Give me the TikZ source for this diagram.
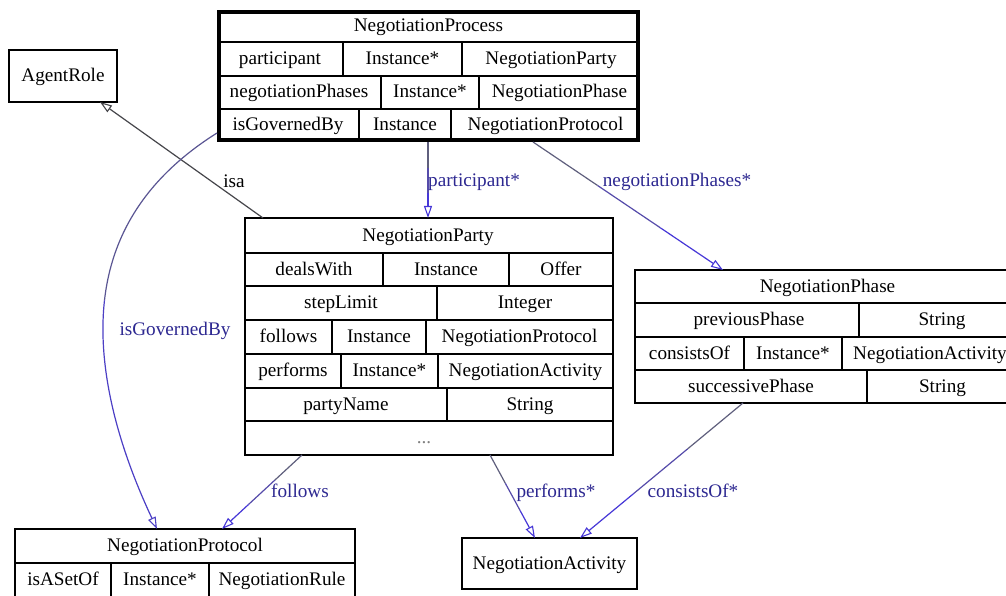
\documentclass[tikz,border=0pt]{standalone}
\usepackage{fontspec}
\setmainfont{Liberation Serif}
\usetikzlibrary{arrows.meta,calc}
\definecolor{cstart}{RGB}{95,95,125}
\definecolor{cmid}{RGB}{85,75,170}
\definecolor{cend}{RGB}{70,55,215}
\definecolor{lblblue}{RGB}{45,40,145}
\definecolor{isagray}{RGB}{70,70,75}
\tikzset{
  cls/.style={draw=black, line width=1.2pt, inner sep=0pt, fill=white, font=\fontsize{19.2}{23}\selectfont, text height=14pt, text depth=3pt},
  procbox/.style={draw=black, line width=4pt, inner sep=0pt, fill=white},
  sepline/.style={draw=black, line width=1.2pt},
  tcellstyle/.style={inner sep=0pt, font=\fontsize{19.2}{23}\selectfont, text=black, text height=14pt, text depth=3pt},
  elabel/.style={tcellstyle, text=lblblue},
  eline/.style={line width=1.2pt},
  opentip/.style={-{Triangle[open,length=12pt,width=8pt,line width=1.1pt]}},
}
\newcommand\tcell[4]{\node[tcellstyle] (#1) at (#2,#3) {#4};}
\newcommand\gradline[2]{%
  \draw[eline, cstart] (#1) -- ($(#1)!0.34!(#2)$);
  \draw[eline, cmid] ($(#1)!0.34!(#2)$) -- ($(#1)!0.67!(#2)$);
  \draw[eline, cend, opentip] ($(#1)!0.67!(#2)$) -- (#2);}
\begin{document}
\begin{tikzpicture}[x=1pt,y=-1pt]
\useasboundingbox (0,0) rectangle (1006,596);
\fill[white] (0,0) rectangle (1006,596);
\clip (0,0) rectangle (1006,596);

% ---------- NegotiationProcess ----------
\node[procbox, minimum width=419pt, minimum height=128.5pt] (proc) at (428.5,76.25) {};
\draw[sepline] (219,42) -- (638,42);
\draw[sepline] (219,76) -- (638,76);
\draw[sepline] (219,109) -- (638,109);
\draw[sepline] (343,42) -- (343,76);
\draw[sepline] (462,42) -- (462,76);
\draw[sepline] (381,76) -- (381,109);
\draw[sepline] (479,76) -- (479,109);
\draw[sepline] (359,109) -- (359,139);
\draw[sepline] (451,109) -- (451,139);
\tcell{procT}{428.5}{26}{NegotiationProcess}
\tcell{procA}{280}{59}{participant}
\tcell{procB}{402.5}{59}{Instance*}
\tcell{procC}{551}{59}{NegotiationParty}
\tcell{procD}{299}{92.5}{negotiationPhases}
\tcell{procE}{430}{92.5}{Instance*}
\tcell{procF}{559.5}{92.5}{NegotiationPhase}
\tcell{procG}{288}{125}{isGovernedBy}
\tcell{procH}{405}{125}{Instance}
\tcell{procI}{545.5}{125}{NegotiationProtocol}

% ---------- AgentRole ----------
\node[cls, minimum width=108pt, minimum height=52pt] (agent) at (63,76) {AgentRole};

% ---------- NegotiationParty ----------
\node[cls, minimum width=368pt, minimum height=237pt] (party) at (429,336.5) {};
\foreach \yy in {253,286,320,354,388,421} {\draw[sepline] (245,\yy) -- (613,\yy);}
\draw[sepline] (383,253) -- (383,286);
\draw[sepline] (509,253) -- (509,286);
\draw[sepline] (437,286) -- (437,320);
\draw[sepline] (332,320) -- (332,354);
\draw[sepline] (426,320) -- (426,354);
\draw[sepline] (341,354) -- (341,388);
\draw[sepline] (438,354) -- (438,388);
\draw[sepline] (447,388) -- (447,421);
\tcell{partyT}{428}{235.5}{NegotiationParty}
\tcell{partyA}{314}{269.5}{dealsWith}
\tcell{partyB}{446}{269.5}{Instance}
\tcell{partyC}{561}{269.5}{Offer}
\tcell{partyD}{341}{303}{stepLimit}
\tcell{partyE}{525}{303}{Integer}
\tcell{partyF}{288.5}{337}{follows}
\tcell{partyG}{379}{337}{Instance}
\tcell{partyH}{519.5}{337}{NegotiationProtocol}
\tcell{partyI}{293}{371}{performs}
\tcell{partyJ}{389.5}{371}{Instance*}
\tcell{partyK}{525.5}{371}{NegotiationActivity}
\tcell{partyL}{346}{404.5}{partyName}
\tcell{partyM}{530}{404.5}{String}
\node[tcellstyle, text=gray] (partyN) at (424,438) {...};

% ---------- NegotiationPhase ----------
\node[cls, minimum width=383pt, minimum height=133pt] (phase) at (826.5,336.5) {};
\draw[sepline] (635,303) -- (1018,303);
\draw[sepline] (635,337) -- (1018,337);
\draw[sepline] (635,370) -- (1018,370);
\draw[sepline] (859,303) -- (859,337);
\draw[sepline] (744,337) -- (744,370);
\draw[sepline] (842,337) -- (842,370);
\draw[sepline] (867,370) -- (867,403);
\tcell{phaseT}{827.5}{286.5}{NegotiationPhase}
\tcell{phaseA}{749}{320}{previousPhase}
\tcell{phaseB}{942}{320}{String}
\tcell{phaseC}{689.5}{353.5}{consistsOf}
\tcell{phaseD}{793}{353.5}{Instance*}
\tcell{phaseE}{930}{353.5}{NegotiationActivity}
\tcell{phaseF}{751}{386.5}{successivePhase}
\tcell{phaseG}{942.5}{386.5}{String}

% ---------- NegotiationProtocol ----------
\node[cls, minimum width=340pt, minimum height=68pt] (proto) at (185,563) {};
\draw[sepline] (15,563) -- (355,563);
\draw[sepline] (111,563) -- (111,597);
\draw[sepline] (209,563) -- (209,597);
\tcell{protoT}{185}{546}{NegotiationProtocol}
\tcell{protoA}{63}{580}{isASetOf}
\tcell{protoB}{160}{580}{Instance*}
\tcell{protoC}{282}{580}{NegotiationRule}

% ---------- NegotiationActivity ----------
\node[cls, minimum width=175pt, minimum height=51pt] (act) at (549.5,563.5) {NegotiationActivity};

% ---------- connector end points ----------
\coordinate (isaS) at (263,218);
\coordinate (isaE) at (100,102);
\coordinate (partS) at (428,142);
\coordinate (partE) at (428,218);
\coordinate (phS) at (533,142);
\coordinate (phE) at (723,270);
\coordinate (folS) at (302,455);
\coordinate (folE) at (222,529);
\coordinate (perS) at (490,455);
\coordinate (perE) at (535,538);
\coordinate (conS) at (743,403);
\coordinate (conE) at (580,538);
\coordinate (govS) at (217,133);
\coordinate (govM) at (104.5,300.25);
\coordinate (govE) at (157,529);

% ---------- connectors ----------
\draw[eline, isagray, opentip] (isaS) -- (isaE);
\gradline{partS}{partE}
\gradline{phS}{phE}
\gradline{folS}{folE}
\gradline{perS}{perE}
\gradline{conS}{conE}
\draw[eline, cstart!50!cmid] (govS) .. controls (147,177) and (112,233.5) .. (govM);
\draw[eline, cmid!40!cend, opentip] (govM) .. controls (97,367) and (117,444) .. (govE);

% ---------- connector labels ----------
\node[tcellstyle] (isaL) at (234,182) {isa};
\node[elabel] (partL) at (474,181) {participant*};
\node[elabel] (phL) at (677,181) {negotiationPhases*};
\node[elabel] (govL) at (175,330) {isGovernedBy};
\node[elabel] (folL) at (300,492) {follows};
\node[elabel] (perL) at (556,492) {performs*};
\node[elabel] (conL) at (693,492) {consistsOf*};
\end{tikzpicture}
\end{document}
